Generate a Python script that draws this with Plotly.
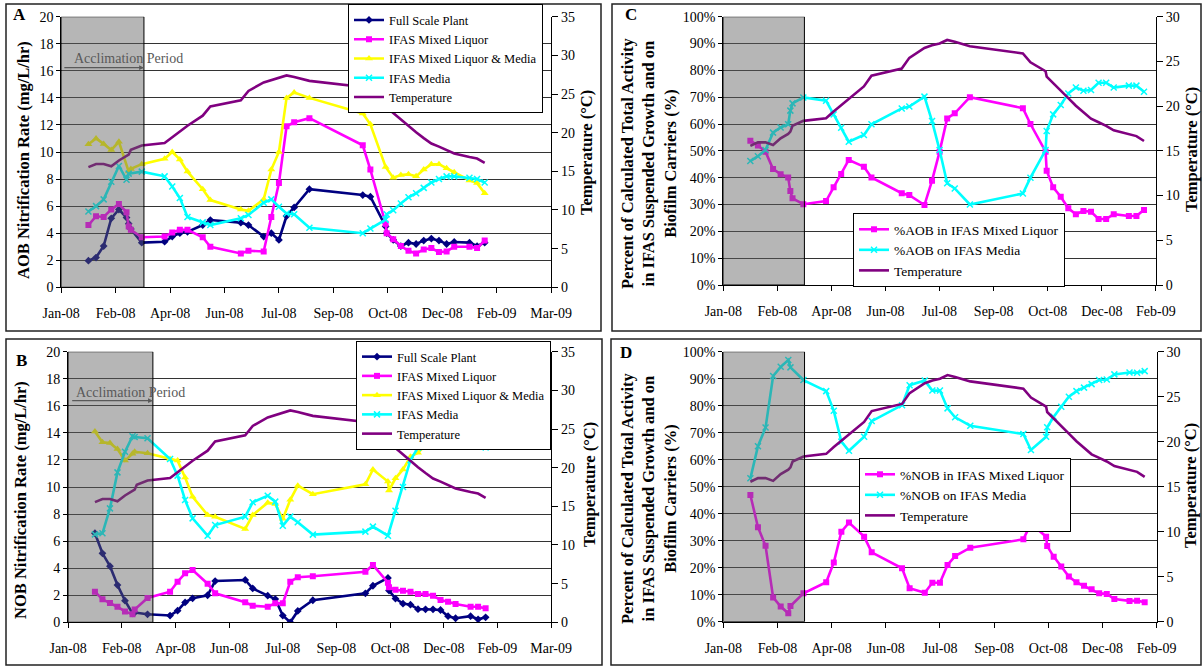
import plotly.graph_objects as go

W, H = 1204, 667
FONT = "Liberation Serif, Times New Roman, serif"

# ---------------- data ----------------
dates = ["2008-01-28", "2008-02-04", "2008-02-11", "2008-02-18", "2008-02-25",
         "2008-03-03", "2008-03-05", "2008-03-07", "2008-03-17", "2008-04-07",
         "2008-04-14", "2008-04-21", "2008-04-28", "2008-05-12", "2008-05-19",
         "2008-06-16", "2008-06-23", "2008-07-07", "2008-07-14", "2008-07-21",
         "2008-07-28", "2008-08-04", "2008-08-18", "2008-10-06", "2008-10-13",
         "2008-10-27", "2008-10-28", "2008-11-03", "2008-11-10", "2008-11-17",
         "2008-11-24", "2008-12-01", "2008-12-08", "2008-12-15", "2008-12-22",
         "2008-12-29", "2009-01-12", "2009-01-19", "2009-01-26"]

temperature = [15.55, 15.95, 15.95, 15.65, 16.4, 16.9, 17.15, 17.8, 18.35, 18.65,
               19.4, 20.1, 20.9, 22.2, 23.4, 24.2, 25.4, 26.5, 26.8, 27.0,
               27.4, 27.2, 26.7, 25.9, 24.9, 23.9, 23.3, 22.55, 21.7, 20.9,
               20.05, 19.3, 18.6, 18.2, 17.8, 17.3, 16.85, 16.65, 16.1]

# Panel A (AOB rates, mg/L/hr)
aob_full = [1.97, 2.2, 3.05, 5.1, 5.75, 5.15, 4.7, 4.3, 3.3, 3.37,
            3.75, 4.0, 4.1, 4.6, 4.97, 4.78, 4.6, 3.75, 4.0, 3.5,
            5.27, 5.9, 7.25, 6.82, 6.7, 4.5, 4.0, 3.5, 3.05, 3.3,
            3.2, 3.45, 3.6, 3.45, 3.2, 3.35, 3.3, 3.05, 3.3]
aob_ml = [4.6, 5.25, 5.2, 5.75, 6.15, 5.55, 4.5, 4.25, 3.7, 3.75,
          4.05, 4.25, 4.25, 3.7, 3.0, 2.5, 2.7, 2.65, 5.2, 7.7,
          11.9, 12.2, 12.5, 10.5, 8.7, 4.7, 4.0, 3.55, 3.05, 2.7,
          2.5, 2.8, 2.9, 2.6, 2.65, 3.0, 3.0, 2.9, 3.45]
aob_mlm = [10.57, 11.0, 10.6, 10.15, 10.75, None, 8.55, 8.75, 9.1, 9.5,
           10.0, 9.45, 8.55, 7.25, 6.45, 5.75, 5.65, 6.5, 8.7, 10.0,
           14.0, 14.4, 14.0, 12.85, 12.05, 8.9, None, 8.1, 8.3, 8.35,
           8.2, 8.7, 9.1, 9.1, 8.8, 8.5, 7.9, 7.7, 6.95]
aob_media = [5.6, 6.0, 6.5, 7.8, 8.97, 7.95, 8.4, None, 8.55, 8.2,
             7.45, 6.6, 5.2, 4.8, 4.6, 5.1, 5.35, 6.25, 6.5, 5.95,
             5.45, 5.4, 4.4, 4.0, 4.35, 5.0, 5.4, 5.7, 6.2, 6.65,
             6.95, 7.35, 7.75, 8.0, 8.2, 8.2, 8.1, 8.0, 7.75]

# Panel B (NOB rates, mg/L/hr)
nob_full = [6.58, 5.1, 4.15, 2.75, 1.6, 0.66, 0.72, None, 0.59, 0.5,
            0.86, 1.47, 1.77, 2.0, 3.05, 3.13, 2.5, 1.97, 1.72, 0.5,
            0.0, 0.84, 1.63, 2.14, 2.7, 3.28, 2.35, 1.75, 1.38, 1.3,
            0.97, 0.96, 0.96, 0.91, 0.45, 0.3, 0.45, 0.22, 0.37]
nob_ml = [2.26, 1.7, 1.42, 1.15, 0.8, 0.6, 0.95, None, 1.8, 2.26,
          3.0, 3.62, 3.87, 2.85, 2.14, 1.48, 1.22, 1.15, 1.4, 1.4,
          3.0, 3.33, 3.4, 3.74, 4.24, 2.93, 2.59, 2.4, 2.34, 2.26,
          2.1, 2.09, 1.97, 1.65, 1.52, 1.35, 1.15, 1.15, 1.03]
nob_mlm = [14.1, 13.3, 13.25, 12.8, 11.95, 12.45, 12.6, None, 12.5, 12.07,
           11.95, 10.7, 9.28, 7.93, 7.8, 6.9, 7.93, 8.84, 8.74, 7.65,
           9.05, 10.1, 9.47, 10.2, 11.3, 10.4, 9.75, 10.64, 11.3, 12.24,
           12.54, 13.1, 13.23, 13.92, 13.53, 13.97, 13.77, 14.09, 12.98]
nob_media = [6.5, 6.58, 8.42, 11.08, 12.6, 13.75, 13.7, None, 13.6, 12.07,
             10.84, 9.04, 7.68, 6.4, 7.19, 7.81, 8.87, 9.36, 8.92, 7.14,
             7.81, 7.39, 6.48, 6.7, 7.07, 6.4, None, 8.25, 10.0, 12.0,
             12.9, 14.38, 14.7, 14.09, 14.04, 13.9, 13.72, 13.55, 12.93]

# Panel C (% of AOB activity)
pct_aob_ml = [53.8, 52.0, 49.7, 43.2, 41.3, 40.1, 35.0, 32.3, 30.1, 31.3,
              36.4, 41.4, 46.6, 44.1, 40.1, 34.2, 33.5, 29.8, 38.9, 49.7,
              62.1, 64.0, 70.0, 65.9, 60.0, 49.7, 42.6, 36.4, 32.9, 28.6,
              26.4, 27.6, 27.3, 24.6, 24.6, 26.4, 25.7, 25.7, 28.0]
pct_aob_media = [46.2, 48.0, 50.3, 56.8, 58.7, 59.9, 65.0, 67.7, 69.9, 68.7,
                 63.6, 58.6, 53.4, 55.9, 59.9, 65.8, 66.5, 70.2, 61.1, 50.3,
                 37.9, 36.0, 30.0, 34.1, 40.0, 50.3, 57.4, 63.6, 67.1, 71.4,
                 73.6, 72.4, 72.7, 75.4, 75.4, 73.6, 74.3, 74.3, 72.0]

# Panel D (% of NOB activity)
pct_nob_ml = [46.9, 35.0, 28.1, 9.0, 5.6, 3.1, 5.8, None, 10.5, 14.6,
              21.9, 33.3, 36.7, 31.5, 25.7, 19.8, 12.4, 10.7, 14.4, 14.4,
              21.0, 24.3, 27.4, 30.5, 36.4, 31.5, 28.0, 24.1, 20.4, 16.7,
              14.6, 13.3, 12.0, 10.5, 10.3, 8.4, 7.7, 7.8, 7.2]
pct_nob_media = [53.1, 65.0, 71.9, 91.0, 94.4, 96.9, 94.2, None, 89.5, 85.4,
                 78.1, 66.7, 63.3, 68.5, 74.3, 80.2, 87.6, 89.3, 85.6, 85.6,
                 79.0, 75.7, 72.6, 69.5, 63.6, 68.5, 72.0, 75.9, 79.6, 83.3,
                 85.4, 86.7, 88.0, 89.5, 89.7, 91.6, 92.3, 92.2, 92.8]

tick_dates = ["2008-01-03", "2008-02-22", "2008-04-12", "2008-06-01", "2008-07-21",
              "2008-09-09", "2008-10-29", "2008-12-18", "2009-02-06", "2009-03-28"]
tick_text = ["Jan-08", "Feb-08", "Apr-08", "Jun-08", "Jul-08",
             "Sep-08", "Oct-08", "Dec-08", "Feb-09", "Mar-09"]

legend_rate = ["Full Scale Plant", "IFAS Mixed Liquor", "IFAS Mixed Liquor & Media",
               "IFAS Media", "Temperature"]
legend_c = ["%AOB in IFAS Mixed Liquor", "%AOB on IFAS Media", "Temperature"]
legend_d = ["%NOB in IFAS Mixed Liquor", "%NOB on IFAS Media", "Temperature"]

# ---------------- styles ----------------
NAVY, MAGENTA, YELLOW, CYAN, PURPLE = "#000080", "#FF00FF", "#FFFF00", "#00FFFF", "#800080"
LW = 2.6


def px_x(p):
    return p / W


def px_y(p):
    return 1 - p / H


def style(kind):
    if kind == "full":
        return dict(line=dict(color=NAVY, width=LW), marker=dict(symbol="diamond", size=6, color=NAVY))
    if kind == "ml":
        return dict(line=dict(color=MAGENTA, width=LW), marker=dict(symbol="square", size=6, color=MAGENTA))
    if kind == "mlm":
        return dict(line=dict(color=YELLOW, width=LW), marker=dict(symbol="triangle-up", size=7, color=YELLOW))
    if kind == "media":
        return dict(line=dict(color=CYAN, width=LW),
                    marker=dict(symbol="x-thin", size=6, color=CYAN, line=dict(color=CYAN, width=1.5)))
    return dict(line=dict(color=PURPLE, width=LW))


fig = go.Figure()

panels = {
    # name: (xaxis, yaxis_left, yaxis_right, legend, x_px range, y_px range, end date, gray end)
    "A": ("x", "y", "y2", "legend", (61.2, 551.1), (16.7, 287.3), "2009-03-28", "2008-03-19"),
    "C": ("x2", "y3", "y4", "legend2", (723.3, 1155.9), (16.7, 285.0), "2009-02-06", "2008-03-18"),
    "B": ("x3", "y5", "y6", "legend3", (68.1, 551.1), (351.7, 622.3), "2009-03-28", "2008-03-22"),
    "D": ("x4", "y7", "y8", "legend4", (723.3, 1156.6), (351.7, 621.7), "2009-02-06", "2008-03-18"),
}

series = {
    "A": [("full", aob_full, legend_rate[0]), ("ml", aob_ml, legend_rate[1]),
          ("mlm", aob_mlm, legend_rate[2]), ("media", aob_media, legend_rate[3])],
    "B": [("full", nob_full, legend_rate[0]), ("ml", nob_ml, legend_rate[1]),
          ("mlm", nob_mlm, legend_rate[2]), ("media", nob_media, legend_rate[3])],
    "C": [("ml", pct_aob_ml, legend_c[0]), ("media", pct_aob_media, legend_c[1])],
    "D": [("ml", pct_nob_ml, legend_d[0]), ("media", pct_nob_media, legend_d[1])],
}

layout = dict(width=W, height=H, autosize=False, margin=dict(l=0, r=0, t=0, b=0, pad=0),
              template=go.layout.Template(),
              paper_bgcolor="white", plot_bgcolor="white",
              font=dict(family=FONT, size=14, color="black"), showlegend=True)
shapes, annotations = [], []

for name, (xa, ya, ya2, leg, (x0, x1), (ytop, ybot), xend, gray_end) in panels.items():
    for kind, vals, label in series[name]:
        fig.add_trace(go.Scatter(x=dates, y=vals, name=label, mode="lines+markers",
                                 connectgaps=True, xaxis=xa, yaxis=ya, legend=leg, **style(kind)))
    fig.add_trace(go.Scatter(x=dates, y=temperature, name="Temperature", mode="lines",
                             xaxis=xa, yaxis=ya2, legend=leg, **style("temp")))

    pct = name in ("C", "D")
    ntick = 9 if pct else 10
    xkey = "xaxis" + ("" if xa == "x" else xa[1:])
    ykey = "yaxis" + ("" if ya == "y" else ya[1:])
    y2key = "yaxis" + ya2[1:]
    layout[xkey] = dict(domain=[px_x(x0), px_x(x1)], anchor=ya, type="date", automargin=False,
                        range=["2008-01-03", xend], tickvals=tick_dates[:ntick],
                        ticktext=tick_text[:ntick], showgrid=False, showline=True,
                        linecolor="black", linewidth=1, ticks="outside", ticklen=5,
                        tickcolor="black", ticklabelstandoff=8,
                        tickfont=dict(family=FONT, size=14), zeroline=False)
    layout[ykey] = dict(domain=[px_y(ybot), px_y(ytop)], anchor=xa, automargin=False,
                        range=[0, 100] if pct else [0, 20], dtick=10 if pct else 2,
                        ticksuffix="%" if pct else "", showgrid=True, gridcolor="#333333",
                        gridwidth=1, showline=True, linecolor="black", linewidth=1,
                        ticks="outside", ticklen=4, tickcolor="black", zeroline=False,
                        tickfont=dict(family=FONT, size=14))
    layout[y2key] = dict(overlaying=ya, side="right", anchor=xa, automargin=False,
                         range=[0, 30] if pct else [0, 35], dtick=5, showgrid=False,
                         showline=True, linecolor="black", linewidth=1, ticks="outside",
                         ticklen=6, tickcolor="black", zeroline=False,
                         tickfont=dict(family=FONT, size=14))

    # acclimation period shading
    shapes.append(dict(type="rect", xref=xa, yref=ya, x0="2008-01-03", x1=gray_end,
                       y0=0, y1=100 if pct else 20, layer="above",
                       fillcolor="rgba(95,95,95,0.46)", line=dict(color="black", width=1)))

# Acclimation Period labels and arrows (A and B)
for xa, ya, gray_end, ytxt, yarr, tail_px, gray_px, txt_px in [
        ("x", "y", "2008-03-19", 16.92, 16.23, 62.4, 143.5, 72.0),
        ("x3", "y5", "2008-03-22", 17.0, 16.38, 70.8, 153.0, 73.9)]:
    annotations.append(dict(xref="paper", yref=ya, x=px_x(txt_px), y=ytxt, xanchor="left",
                            yanchor="middle", showarrow=False, text="Acclimation Period",
                            font=dict(family=FONT, size=14, color="#595959")))
    annotations.append(dict(xref=xa, yref=ya, x=gray_end, y=yarr, ax=-(gray_px - tail_px), ay=0,
                            axref="pixel", ayref="pixel", text="", showarrow=True,
                            arrowhead=2, arrowsize=0.8, arrowwidth=1.2, arrowcolor="#595959"))

# axis titles
title_rate_a = "<b>AOB Nitrification Rate (mg/L/hr)</b>"
title_rate_b = "<b>NOB Nitrification Rate (mg/L/hr)</b>"
title_pct = ("<b>Percent of Calculated Total Activity</b><br><b>in IFAS Suspended Growth and on</b>"
             "<br><b>Biofilm Carriers (%)</b>")
title_temp = "<b>Temperature (°C)</b>"
for text, xp, yp in [(title_rate_a, 23, 160), (title_rate_b, 21, 500),
                     (title_temp, 587, 153), (title_temp, 589, 485),
                     (title_pct, 649, 163), (title_pct, 649, 498),
                     (title_temp, 1191, 150), (title_temp, 1191, 486)]:
    annotations.append(dict(xref="paper", yref="paper", x=px_x(xp), y=px_y(yp),
                            xanchor="center", yanchor="middle", textangle=-90, showarrow=False,
                            text=text, font=dict(family=FONT, size=16.5, color="black")))

# panel letters
for letter, xp, yp in [("A", 19, 15), ("C", 631, 15), ("B", 21, 360), ("D", 626, 352)]:
    annotations.append(dict(xref="paper", yref="paper", x=px_x(xp), y=px_y(yp),
                            xanchor="center", yanchor="middle", showarrow=False,
                            text="<b>%s</b>" % letter, font=dict(family=FONT, size=17, color="black")))

# panel frames
for (fx0, fy0, fx1, fy1) in [(6, 4, 601, 331), (612, 4, 1201, 331),
                             (6, 339, 602, 665), (611, 339, 1201, 665)]:
    shapes.append(dict(type="rect", xref="paper", yref="paper", x0=px_x(fx0), x1=px_x(fx1),
                       y0=px_y(fy1), y1=px_y(fy0), layer="below",
                       line=dict(color="#222222", width=1.5), fillcolor="rgba(0,0,0,0)"))

leg_common = dict(bgcolor="white", bordercolor="black", borderwidth=1, xanchor="left",
                  yanchor="top", tracegroupgap=0, itemwidth=30)
layout["legend"] = dict(x=px_x(348), y=px_y(4.3), font=dict(family=FONT, size=12.5), **leg_common)
layout["legend2"] = dict(x=px_x(853), y=px_y(213), font=dict(family=FONT, size=13.5), **leg_common)
layout["legend3"] = dict(x=px_x(356), y=px_y(341), font=dict(family=FONT, size=12.5), **leg_common)
layout["legend4"] = dict(x=px_x(859), y=px_y(458), font=dict(family=FONT, size=13.5), **leg_common)

layout["shapes"] = shapes
layout["annotations"] = annotations
fig.update_layout(**layout)
fig.write_html("out.html")
